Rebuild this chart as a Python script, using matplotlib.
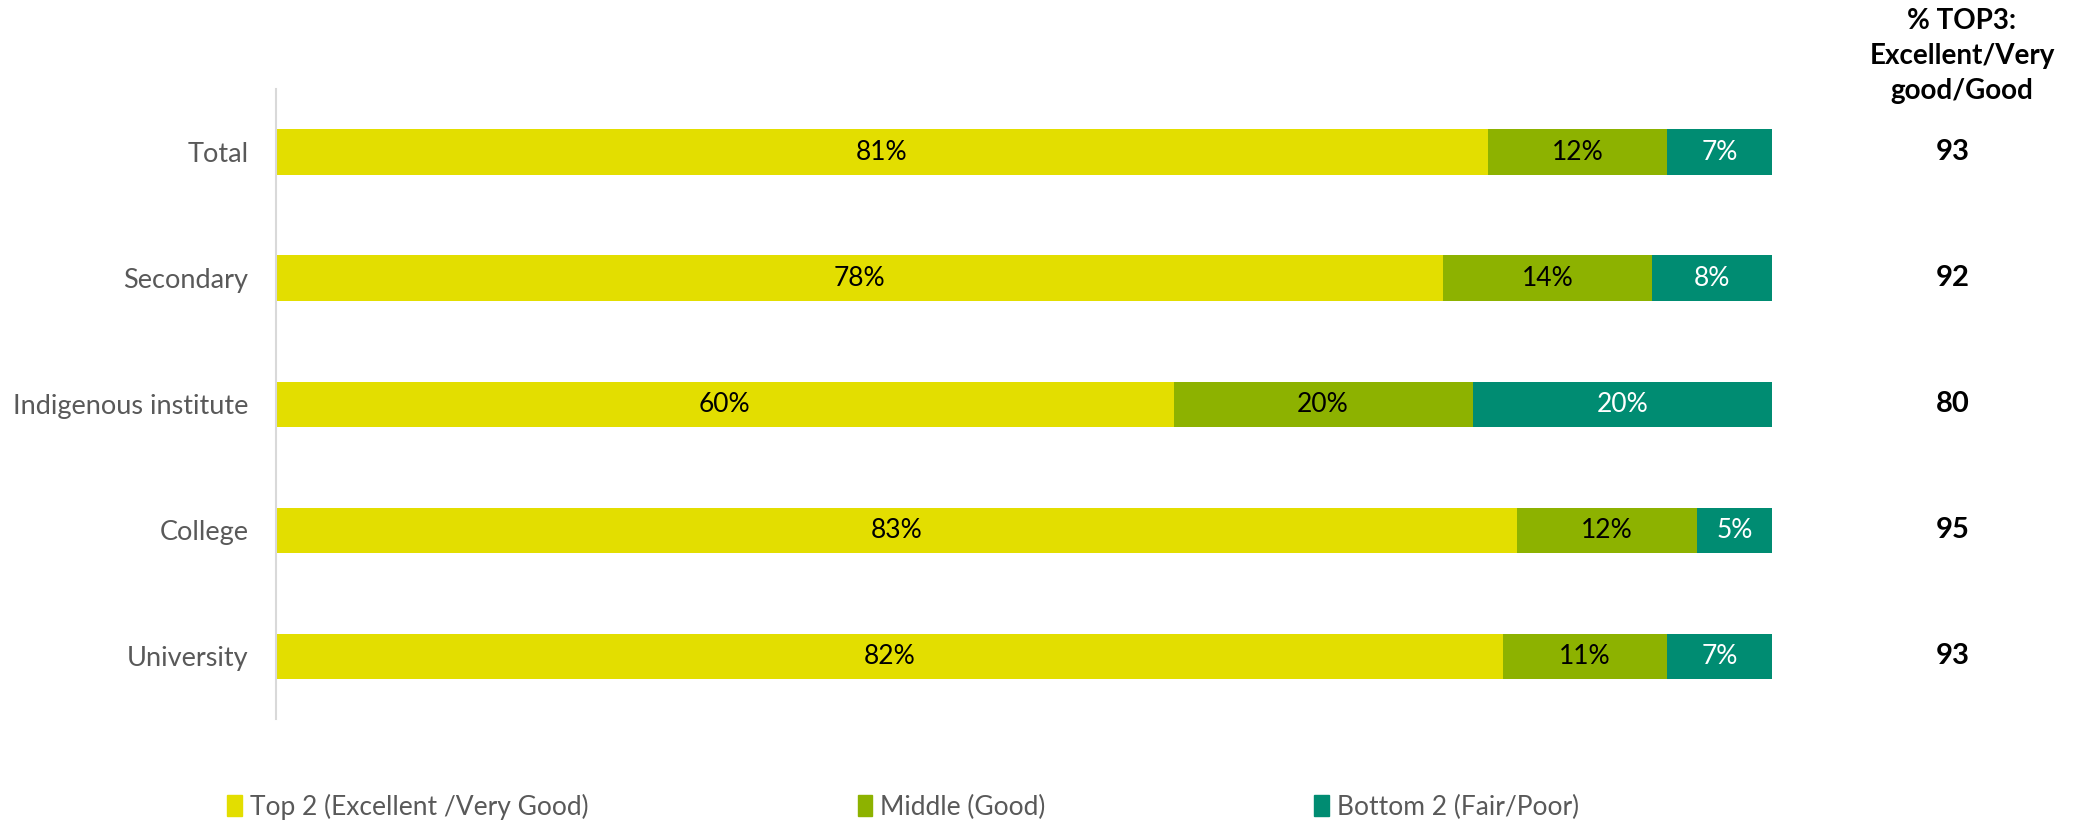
import matplotlib.pyplot as plt
from matplotlib.patches import Patch
from matplotlib.transforms import blended_transform_factory

plt.rcParams['font.family'] = ['Lato', 'DejaVu Sans']

categories = ['Total', 'Secondary', 'Indigenous institute', 'College', 'University']
top2 = [81, 78, 60, 83, 82]
middle = [12, 14, 20, 12, 11]
bottom2 = [7, 8, 20, 5, 7]
top3 = [93, 92, 80, 95, 93]

series = ['Top 2 (Excellent /Very Good)', 'Middle (Good)', 'Bottom 2 (Fair/Poor)']
colors = ['#E3DE00', '#8DB200', '#008C72']
text_colors = ['black', 'black', 'white']

fig = plt.figure(figsize=(20.77, 8.25), dpi=100)
ax = fig.add_axes([0.133, 0.128, 0.72, 0.764])

y = list(range(len(categories)))
left = [0] * len(categories)
for vals, col, tc, name in zip([top2, middle, bottom2], colors, text_colors, series):
    bars = ax.barh(y, vals, left=left, height=0.36, color=col, label=name)
    for b, v in zip(bars, vals):
        ax.text(b.get_x() + b.get_width() / 2, b.get_y() + b.get_height() / 2,
                f'{v}%', ha='center', va='center', fontsize=19, color=tc)
    left = [l + v for l, v in zip(left, vals)]

ax.set_xlim(0, 100)
ax.set_ylim(len(categories) - 0.5, -0.5)
ax.set_yticks(y)
ax.set_yticklabels(categories, fontsize=19.5, color='#595959')
ax.tick_params(axis='y', length=0, pad=20)
ax.set_xticks([])
for s in ['top', 'right', 'bottom']:
    ax.spines[s].set_visible(False)
ax.spines['left'].set_color('#D9D9D9')
ax.spines['left'].set_linewidth(1.5)

# right-hand TOP3 column
fig.text(1962 / 2077, 1 - 56 / 825, '% TOP3:\nExcellent/Very\ngood/Good',
         ha='center', va='center', fontsize=20, fontweight='bold', linespacing=1.45)
trans = blended_transform_factory(fig.transFigure, ax.transData)
for yi, v in zip(y, top3):
    ax.text(1953 / 2077, yi, str(v), transform=trans,
            ha='center', va='center', fontsize=21, fontweight='bold')

handles = [Patch(color=c) for c in colors]
fig.legend(handles, series, loc='center left', bbox_to_anchor=(0.098, 1 - 807 / 825),
           ncol=3, frameon=False, fontsize=19, labelcolor='#595959',
           handlelength=0.55, handleheight=0.85, handletextpad=0.3, columnspacing=10.2)

fig.savefig('out.png', dpi=100)
